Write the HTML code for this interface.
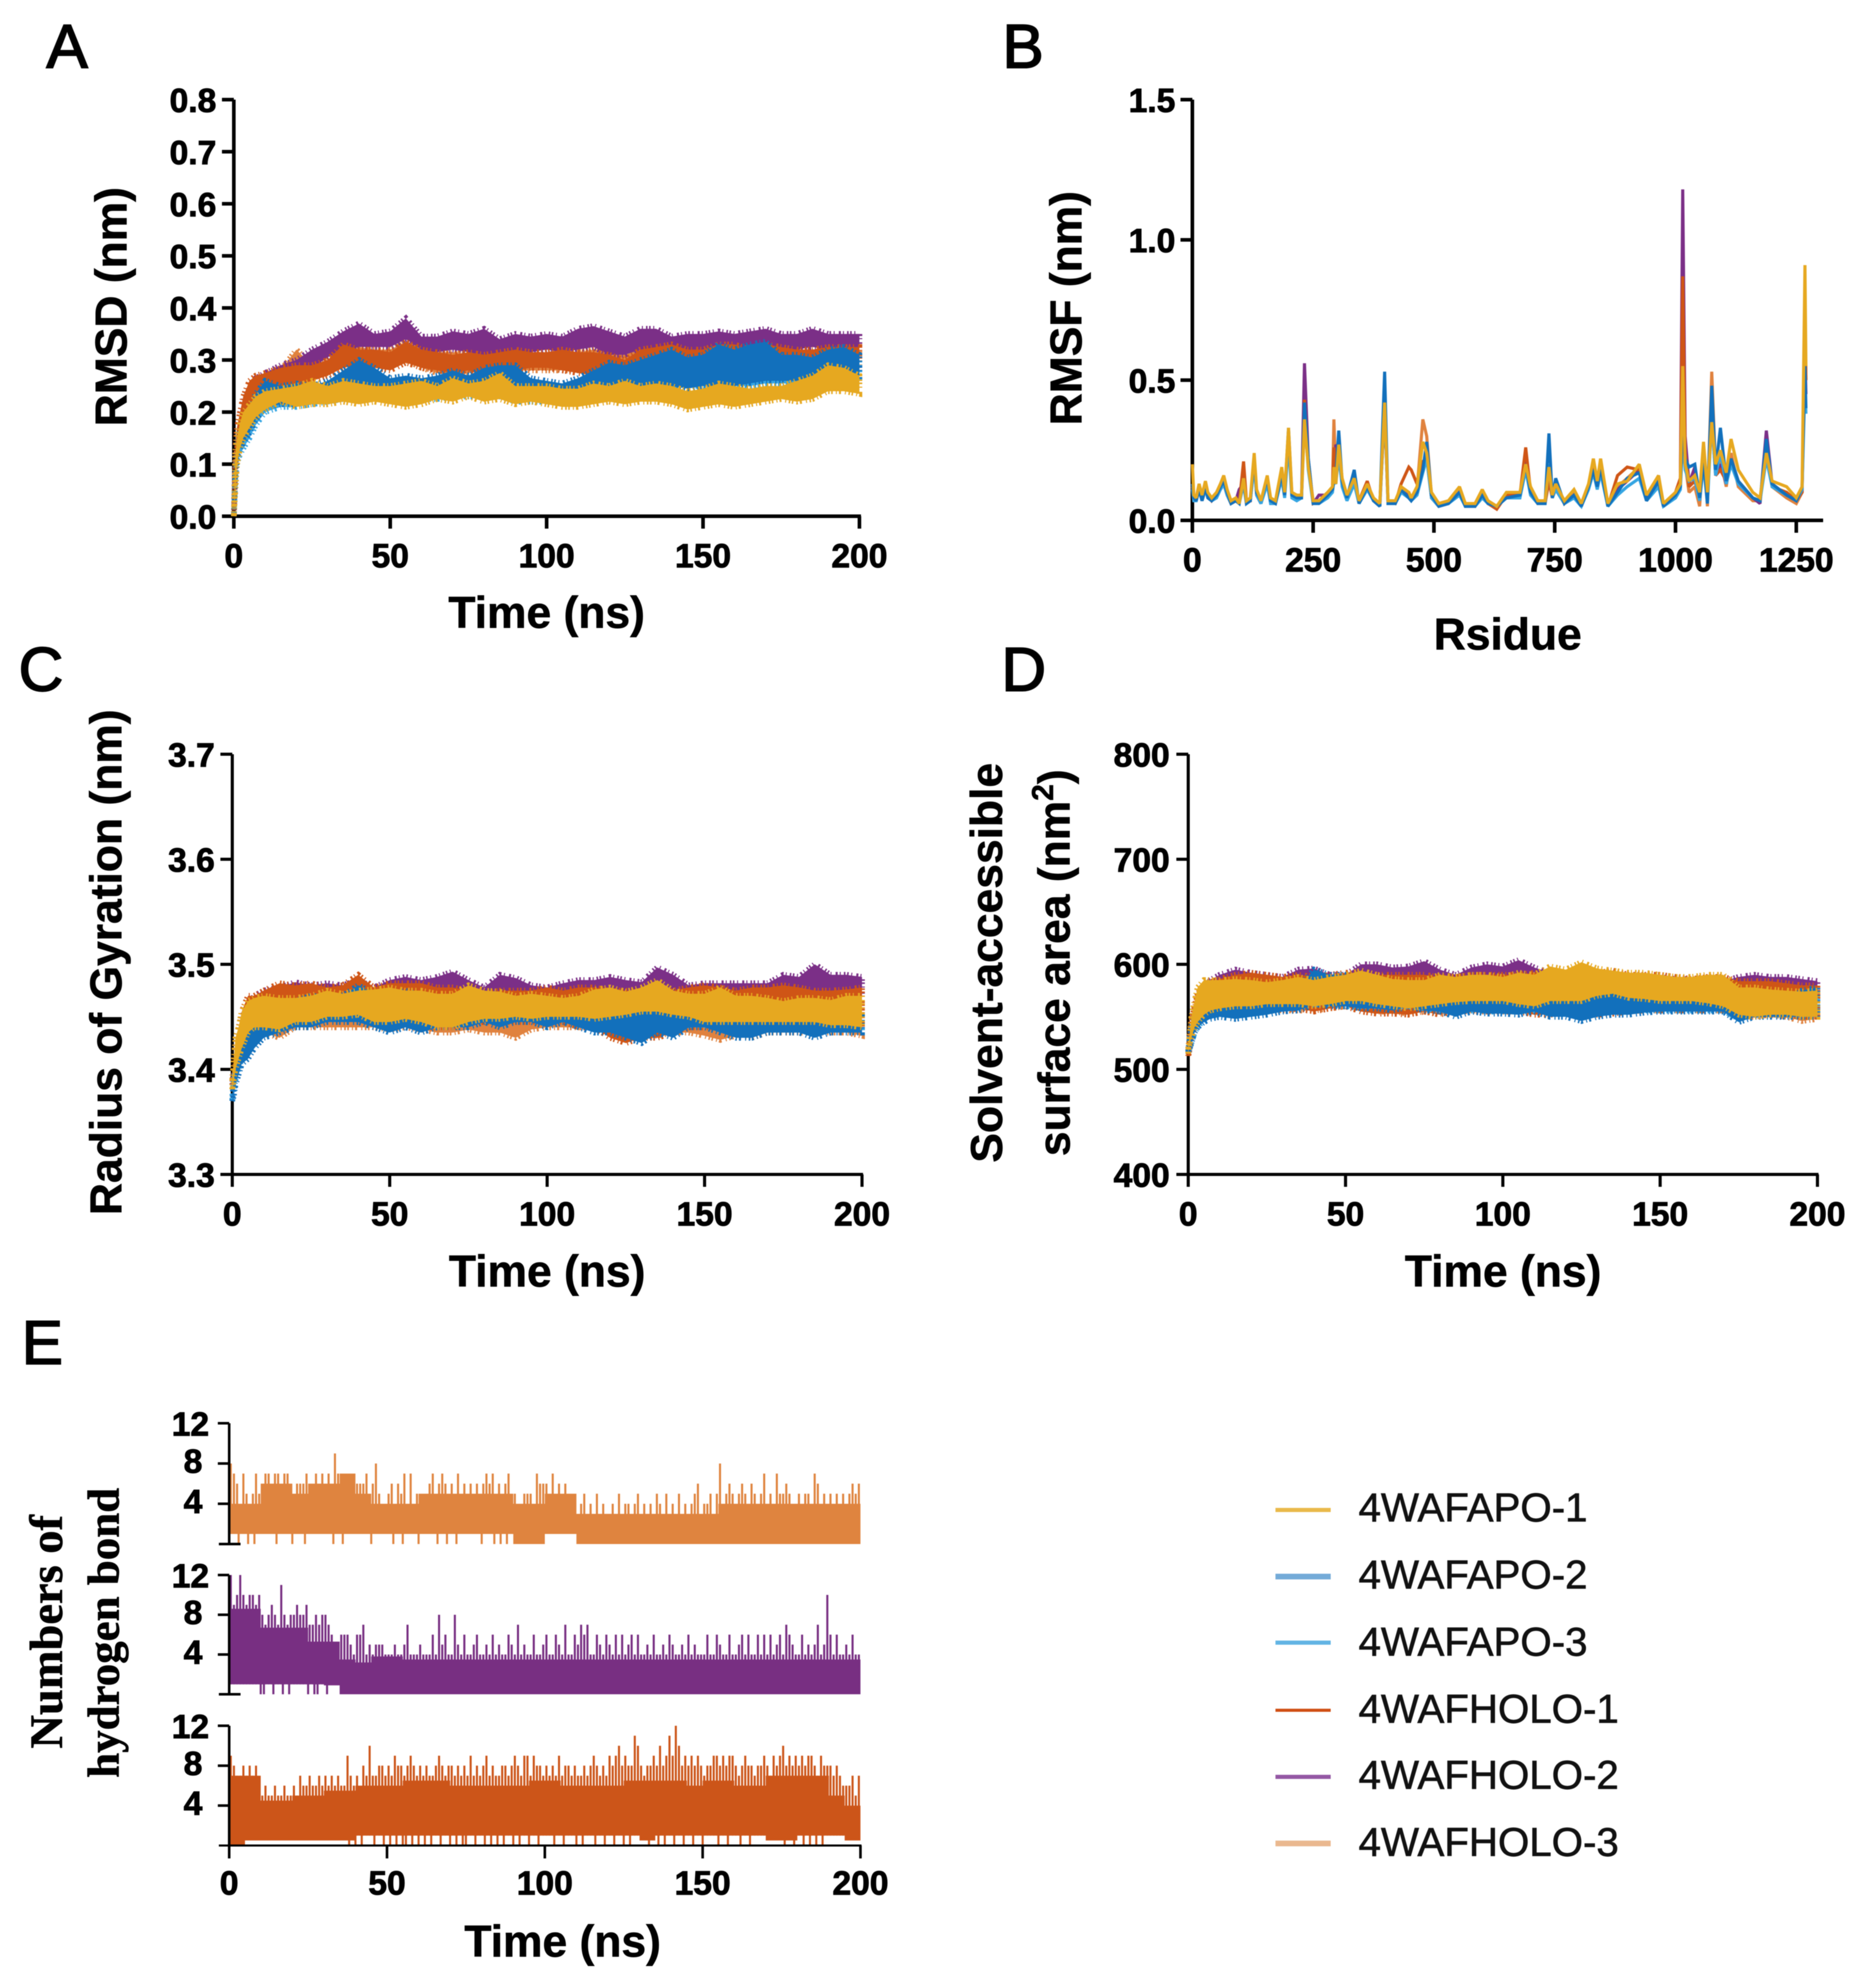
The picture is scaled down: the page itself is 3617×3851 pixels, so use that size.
<!DOCTYPE html>
<html lang="en">
<head>
<meta charset="utf-8">
<title>MD simulation analysis of 4WAF</title>
<style>
html,body{margin:0;padding:0;background:#fff;}
svg{display:block;font-family:"Liberation Sans",Arial,sans-serif;filter:blur(0.8px);}
.tick{font-weight:700;font-size:65px;fill:#000;stroke:#000;stroke-width:1.6px;}
.title{font-weight:700;font-size:86px;fill:#000;stroke:#000;stroke-width:1px;}
.serif{font-family:"Liberation Serif",serif;font-weight:700;fill:#000;stroke:#000;stroke-width:1px;}
.panel{font-size:120px;fill:#000;stroke:#000;stroke-width:3px;}
.leg{font-size:78px;fill:#111;stroke:#111;stroke-width:1.2px;}
</style>
</head>
<body>
<svg id="figure" xmlns="http://www.w3.org/2000/svg" width="3617" height="3851" viewBox="0 0 3617 3851">
<rect x="0" y="0" width="3617" height="3851" fill="#fff"/>
<text class="panel" x="90" y="131">A</text>
<text class="panel" x="1942" y="131">B</text>
<text class="panel" x="36" y="1338">C</text>
<text class="panel" x="1940" y="1338">D</text>
<text class="panel" x="42" y="2642">E</text>

<g id="chartA"></g>
<g id="chartB"></g>
<g id="chartC"></g>
<g id="chartD"></g>
<g id="chartE"></g>

<text class="title" x="1059" y="1216" text-anchor="middle">Time (ns)</text>
<text class="title" transform="translate(245,594) rotate(-90)" text-anchor="middle">RMSD (nm)</text>
<text class="title" x="2921" y="1258" text-anchor="middle">Rsidue</text>
<text class="title" transform="translate(2095,597) rotate(-90)" text-anchor="middle">RMSF (nm)</text>
<text class="title" x="1060" y="2492" text-anchor="middle">Time (ns)</text>
<text class="title" transform="translate(235,1864) rotate(-90)" text-anchor="middle">Radius of Gyration (nm)</text>
<text class="title" x="2912" y="2492" text-anchor="middle">Time (ns)</text>
<text class="title" transform="translate(1941,1865) rotate(-90)" text-anchor="middle">Solvent-accessible</text>
<text class="title" transform="translate(2072,1865) rotate(-90)" text-anchor="middle">surface area (nm<tspan font-size="58" dy="-32">2</tspan><tspan dy="32">)</tspan></text>
<text class="title" x="1090" y="3790" text-anchor="middle">Time (ns)</text>
<text class="serif" font-size="90" transform="translate(120,3161) rotate(-90)" text-anchor="middle">Numbers of</text>
<text class="serif" font-size="87" transform="translate(230,3163) rotate(-90)" text-anchor="middle">hydrogen bond</text>

<g>
<line x1="2471" y1="2925" x2="2578" y2="2925" stroke="#e9b94a" stroke-width="8"/>
<text class="leg" x="2632" y="2947">4WAFAPO-1</text>
<line x1="2471" y1="3054" x2="2578" y2="3054" stroke="#74abd8" stroke-width="11"/>
<text class="leg" x="2632" y="3077">4WAFAPO-2</text>
<line x1="2471" y1="3182" x2="2578" y2="3182" stroke="#62b4e4" stroke-width="8"/>
<text class="leg" x="2632" y="3207">4WAFAPO-3</text>
<line x1="2471" y1="3313" x2="2578" y2="3313" stroke="#d04f14" stroke-width="6"/>
<text class="leg" x="2632" y="3337">4WAFHOLO-1</text>
<line x1="2471" y1="3442" x2="2578" y2="3442" stroke="#9458a4" stroke-width="8"/>
<text class="leg" x="2632" y="3465">4WAFHOLO-2</text>
<line x1="2471" y1="3571" x2="2578" y2="3571" stroke="#eab88f" stroke-width="11"/>
<text class="leg" x="2632" y="3595">4WAFHOLO-3</text>
</g>
</svg>

<script>
/* ---------- shared ---------- */
const seriesNames = ['4wafholo-3','4wafholo-2','4wafholo-1','4wafapo-3','4wafapo-2','4wafapo-1'];
const seriesColors = ['#e0823e','#7b2f87','#cf5516','#35a5e2','#1270bc','#e6a820'];

/* Time samples (ns) for the trajectory bands */
const timeGrid = [
0,.5,1,2,3,5,7,10,
15,20,25,30,35,40,45,50,55,60,
65,70,75,80,85,90,95,100,105,110,
115,120,125,130,135,140,145,150,155,160,
165,170,175,180,185,190,195,200];
const timeTicks = [0,50,100,150,200];

/* ---------- A: RMSD (nm), upper / lower edge of each trace ---------- */
const rmsdTicks = ['0.0','0.1','0.2','0.3','0.4','0.5','0.6','0.7','0.8'];
const rmsdApo1Upper = [
0,.12,.15,.18,.2,.215,.23,.24,
.245,.25,.26,.25,.26,.255,.25,.25,.255,.26,
.25,.265,.255,.26,.275,.25,.25,.25,.245,.245,
.255,.25,.26,.25,.255,.25,.24,.245,.255,.25,
.245,.25,.25,.26,.27,.29,.285,.27];
const rmsdApo1Lower = [
0,.05,.1,.13,.15,.17,.19,.205,
.22,.21,.215,.215,.22,.215,.22,.215,.21,.215,
.225,.22,.23,.22,.225,.215,.22,.215,.21,.21,
.215,.22,.215,.22,.22,.215,.205,.21,.215,.21,
.215,.22,.225,.22,.225,.24,.24,.235];
const rmsdApo2Upper = [
0,.1,.14,.17,.18,.2,.235,.26,
.25,.255,.25,.26,.28,.30,.285,.265,.27,.265,
.27,.28,.27,.285,.29,.29,.265,.26,.255,.265,
.28,.295,.29,.30,.31,.32,.305,.31,.33,.32,
.33,.335,.31,.31,.305,.32,.325,.31];
const rmsdApo2Lower = [
0,.08,.11,.13,.14,.16,.185,.21,
.215,.215,.22,.225,.235,.24,.24,.225,.235,.23,
.23,.235,.24,.24,.235,.225,.23,.225,.225,.23,
.235,.24,.24,.24,.245,.25,.245,.25,.25,.25,
.255,.26,.26,.26,.26,.26,.26,.26];
const rmsdApo3Upper = [
0,.09,.13,.16,.17,.19,.22,.245,
.24,.245,.245,.25,.26,.27,.265,.25,.255,.25,
.255,.26,.26,.265,.27,.265,.255,.25,.245,.255,
.265,.27,.27,.275,.28,.29,.295,.29,.30,.295,
.30,.30,.295,.29,.295,.30,.305,.30];
const rmsdApo3Lower = [
0,.07,.1,.12,.13,.15,.175,.2,
.21,.21,.215,.22,.225,.23,.23,.22,.225,.225,
.225,.23,.23,.23,.23,.22,.22,.22,.22,.225,
.23,.235,.235,.235,.24,.245,.25,.25,.25,.25,
.25,.255,.255,.255,.255,.26,.26,.26];
const rmsdHolo1Upper = [
0,.13,.17,.2,.23,.26,.27,.275,
.285,.29,.29,.30,.33,.32,.32,.315,.335,.32,
.315,.31,.315,.31,.315,.32,.315,.315,.32,.315,
.315,.31,.30,.32,.325,.33,.32,.32,.33,.33,
.32,.33,.325,.32,.32,.325,.325,.325];
const rmsdHolo1Lower = [
0,.1,.13,.16,.185,.21,.225,.235,
.245,.25,.26,.27,.285,.29,.285,.28,.295,.285,
.28,.275,.28,.27,.275,.28,.285,.285,.28,.275,
.27,.27,.26,.27,.28,.29,.285,.28,.285,.28,
.29,.29,.29,.29,.29,.295,.29,.29];
const rmsdHolo2Upper = [
0,.13,.17,.2,.22,.25,.265,.275,
.29,.30,.32,.335,.355,.37,.35,.355,.38,.345,
.345,.355,.35,.36,.34,.35,.345,.35,.345,.36,
.365,.355,.345,.36,.36,.345,.35,.35,.355,.35,
.355,.36,.35,.35,.36,.35,.35,.35];
const rmsdHolo2Lower = [
0,.1,.13,.16,.19,.22,.235,.24,
.26,.27,.285,.305,.32,.325,.325,.325,.34,.32,
.315,.32,.315,.31,.31,.315,.315,.32,.315,.32,
.325,.31,.31,.32,.32,.315,.315,.32,.32,.32,
.32,.325,.32,.32,.325,.32,.32,.325];
const rmsdHolo3Upper = [
0,.12,.16,.2,.22,.25,.265,.27,
.28,.32,.29,.30,.325,.325,.32,.32,.335,.33,
.315,.315,.31,.32,.315,.31,.31,.31,.31,.315,
.32,.32,.31,.32,.33,.315,.31,.31,.32,.32,
.31,.32,.315,.315,.315,.32,.32,.32];
const rmsdHolo3Lower = [
0,.09,.13,.16,.18,.21,.22,.235,
.24,.26,.265,.275,.295,.295,.29,.29,.30,.285,
.275,.27,.275,.28,.28,.28,.28,.28,.28,.28,
.28,.28,.27,.28,.29,.28,.28,.28,.28,.28,
.28,.28,.28,.28,.285,.285,.285,.29];

/* ---------- B: RMSF (nm) per residue ---------- */
const rmsfTicks = ['0.0','0.5','1.0','1.5'];
const residueTicks = [0,250,500,750,1000,1250];
const residues = [
0,3,8,14,20,27,32,40,50,58,
65,72,80,90,97,106,112,120,128,133,
142,155,162,172,185,191,199,206,216,226,
232,240,250,262,280,290,293,297,303,310,
320,335,345,362,375,388,398,405,420,432,
448,453,465,477,485,495,510,530,553,565,
585,600,612,630,650,678,690,700,715,730,
738,745,752,770,790,805,820,830,838,845,
860,880,900,925,940,965,975,1000,1010,1015,
1020,1028,1040,1050,1058,1066,1075,1083,1093,1105,
1115,1130,1160,1175,1188,1200,1230,1250,1262,1268,
1270];
const rmsfApo1 = [
.20,.09,.08,.13,.09,.14,.10,.08,.10,.13,
.16,.11,.07,.08,.06,.15,.07,.08,.24,.11,
.07,.16,.08,.07,.19,.10,.33,.10,.09,.09,
.36,.19,.07,.07,.10,.12,.19,.13,.27,.15,
.09,.15,.07,.13,.08,.06,.42,.07,.07,.12,
.10,.08,.12,.28,.24,.10,.06,.07,.12,.06,
.06,.11,.07,.05,.10,.10,.20,.12,.07,.07,
.19,.09,.13,.07,.11,.06,.13,.22,.14,.22,
.06,.13,.14,.20,.09,.16,.06,.10,.13,.55,
.20,.14,.16,.10,.28,.10,.35,.20,.25,.17,
.29,.18,.10,.08,.24,.14,.12,.08,.12,.91,
.55];
const rmsfApo2 = [
.13,.08,.07,.11,.07,.12,.08,.07,.09,.12,
.14,.10,.06,.07,.06,.15,.06,.07,.23,.10,
.07,.15,.07,.06,.17,.09,.33,.09,.08,.08,
.42,.22,.06,.06,.09,.11,.14,.16,.32,.14,
.08,.18,.06,.12,.07,.05,.53,.06,.06,.11,
.08,.07,.10,.18,.28,.09,.05,.06,.10,.05,
.05,.09,.06,.05,.08,.09,.20,.10,.06,.06,
.31,.08,.15,.06,.09,.05,.12,.18,.12,.19,
.05,.10,.15,.17,.07,.14,.05,.09,.12,.34,
.22,.19,.20,.08,.22,.06,.48,.18,.33,.14,
.22,.14,.08,.07,.29,.13,.09,.07,.12,.55,
.40];
const rmsfApo3 = [
.11,.07,.07,.11,.07,.11,.08,.07,.08,.11,
.13,.09,.06,.07,.06,.13,.06,.07,.20,.09,
.06,.13,.06,.06,.15,.08,.28,.08,.07,.08,
.38,.18,.06,.06,.08,.10,.14,.13,.24,.12,
.07,.13,.06,.11,.07,.05,.41,.06,.06,.10,
.08,.07,.09,.17,.22,.08,.05,.06,.09,.05,
.05,.08,.06,.05,.08,.08,.18,.09,.06,.06,
.20,.08,.11,.06,.08,.05,.11,.17,.11,.17,
.05,.09,.12,.15,.07,.12,.05,.08,.11,.30,
.18,.14,.15,.07,.20,.06,.36,.16,.24,.13,
.20,.13,.08,.07,.22,.12,.09,.07,.11,.50,
.38];
const rmsfHolo1 = [
.12,.07,.08,.13,.07,.11,.09,.07,.09,.11,
.13,.09,.06,.07,.06,.21,.07,.07,.22,.09,
.06,.14,.07,.06,.16,.09,.30,.09,.08,.08,
.43,.20,.06,.07,.09,.11,.26,.14,.24,.13,
.08,.13,.07,.14,.07,.06,.40,.06,.06,.13,
.19,.18,.13,.21,.22,.08,.05,.06,.10,.05,
.05,.09,.06,.04,.09,.09,.26,.10,.06,.06,
.14,.08,.11,.06,.09,.05,.12,.22,.13,.22,
.05,.16,.19,.18,.07,.13,.05,.10,.15,.87,
.24,.12,.14,.08,.26,.08,.40,.16,.18,.14,
.22,.14,.08,.07,.26,.12,.10,.07,.10,.78,
.50];
const rmsfHolo2 = [
.13,.07,.07,.12,.07,.11,.09,.07,.09,.11,
.13,.09,.06,.07,.11,.13,.06,.07,.21,.09,
.06,.14,.06,.06,.16,.09,.30,.09,.08,.08,
.56,.22,.06,.09,.09,.12,.18,.27,.25,.13,
.08,.14,.06,.13,.07,.05,.40,.06,.06,.12,
.09,.07,.11,.18,.24,.08,.05,.06,.10,.05,
.05,.09,.06,.05,.09,.09,.22,.11,.06,.06,
.16,.10,.12,.06,.09,.05,.12,.20,.13,.20,
.05,.11,.14,.18,.07,.16,.05,.09,.14,1.18,
.30,.13,.19,.08,.22,.08,.36,.16,.20,.13,
.22,.13,.08,.06,.32,.13,.09,.07,.10,.60,
.45];
const rmsfHolo3 = [
.12,.08,.08,.12,.08,.12,.09,.08,.09,.12,
.14,.09,.06,.07,.06,.14,.07,.07,.23,.10,
.06,.15,.07,.07,.17,.09,.31,.09,.08,.08,
.35,.20,.07,.07,.09,.11,.36,.15,.22,.13,
.08,.14,.07,.12,.07,.06,.41,.07,.06,.11,
.10,.08,.11,.36,.30,.09,.06,.07,.11,.06,
.05,.10,.07,.05,.09,.09,.25,.11,.06,.06,
.15,.09,.12,.06,.10,.06,.12,.21,.13,.21,
.06,.12,.15,.19,.07,.14,.06,.09,.12,.60,
.20,.10,.12,.05,.27,.05,.53,.18,.22,.12,
.24,.12,.07,.07,.25,.12,.08,.06,.10,.70,
.50];

/* ---------- C: radius of gyration (nm) ---------- */
const rgTicks = ['3.3','3.4','3.5','3.6','3.7'];
const rgApo1Upper = [
3.39,3.41,3.43,3.44,3.455,3.465,3.468,3.47,
3.468,3.468,3.47,3.475,3.472,3.475,3.476,3.478,3.475,3.475,
3.472,3.472,3.48,3.475,3.474,3.47,3.472,3.47,3.468,3.47,
3.476,3.478,3.474,3.478,3.485,3.475,3.472,3.472,3.478,3.47,
3.47,3.468,3.465,3.468,3.468,3.466,3.47,3.47];
const rgApo1Lower = [
3.38,3.39,3.40,3.41,3.42,3.435,3.44,3.44,
3.438,3.445,3.445,3.45,3.45,3.452,3.445,3.445,3.448,3.445,
3.44,3.44,3.445,3.448,3.448,3.45,3.448,3.45,3.45,3.45,
3.448,3.45,3.452,3.455,3.455,3.452,3.45,3.445,3.445,3.445,
3.445,3.445,3.445,3.445,3.445,3.442,3.442,3.44];
const rgApo2Upper = [
3.37,3.39,3.40,3.41,3.42,3.44,3.45,3.46,
3.462,3.465,3.47,3.468,3.47,3.48,3.472,3.47,3.475,3.47,
3.468,3.465,3.465,3.46,3.46,3.462,3.46,3.46,3.458,3.455,
3.455,3.46,3.46,3.462,3.465,3.46,3.462,3.465,3.458,3.455,
3.452,3.45,3.452,3.452,3.45,3.45,3.452,3.45];
const rgApo2Lower = [
3.37,3.375,3.385,3.395,3.405,3.41,3.42,3.43,
3.435,3.44,3.44,3.445,3.445,3.445,3.44,3.435,3.44,3.435,
3.44,3.44,3.44,3.445,3.44,3.445,3.445,3.44,3.445,3.44,
3.435,3.435,3.43,3.425,3.435,3.43,3.44,3.44,3.435,3.43,
3.43,3.435,3.435,3.435,3.43,3.435,3.435,3.435];
const rgApo3Upper = [
3.375,3.39,3.40,3.415,3.425,3.44,3.45,3.455,
3.458,3.46,3.462,3.462,3.465,3.468,3.465,3.465,3.465,3.465,
3.465,3.462,3.462,3.46,3.46,3.46,3.458,3.458,3.455,3.455,
3.455,3.458,3.458,3.46,3.46,3.458,3.46,3.46,3.458,3.455,
3.452,3.452,3.452,3.452,3.452,3.452,3.452,3.45];
const rgApo3Lower = [
3.37,3.38,3.39,3.40,3.41,3.42,3.43,3.435,
3.44,3.445,3.445,3.448,3.448,3.448,3.445,3.44,3.445,3.44,
3.445,3.445,3.445,3.448,3.445,3.448,3.448,3.445,3.448,3.445,
3.44,3.44,3.435,3.435,3.44,3.438,3.442,3.442,3.44,3.438,
3.438,3.44,3.44,3.44,3.438,3.44,3.44,3.44];
const rgHolo1Upper = [
3.39,3.41,3.425,3.44,3.455,3.47,3.47,3.475,
3.482,3.48,3.482,3.478,3.48,3.49,3.478,3.482,3.482,3.482,
3.478,3.478,3.475,3.472,3.475,3.475,3.475,3.478,3.475,3.478,
3.478,3.475,3.475,3.475,3.47,3.475,3.478,3.48,3.478,3.475,
3.478,3.478,3.48,3.478,3.475,3.475,3.476,3.478];
const rgHolo1Lower = [
3.39,3.395,3.405,3.42,3.43,3.44,3.445,3.45,
3.445,3.45,3.45,3.45,3.45,3.448,3.445,3.44,3.445,3.44,
3.44,3.44,3.445,3.445,3.445,3.445,3.445,3.448,3.445,3.44,
3.44,3.43,3.425,3.43,3.43,3.435,3.44,3.44,3.44,3.44,
3.44,3.44,3.44,3.44,3.44,3.44,3.44,3.44];
const rgHolo2Upper = [
3.39,3.41,3.425,3.44,3.45,3.46,3.47,3.475,
3.478,3.483,3.48,3.482,3.48,3.485,3.478,3.485,3.488,3.485,
3.488,3.493,3.485,3.478,3.49,3.487,3.48,3.478,3.482,3.485,
3.485,3.488,3.485,3.483,3.497,3.49,3.48,3.482,3.482,3.482,
3.482,3.482,3.49,3.488,3.50,3.49,3.49,3.488];
const rgHolo2Lower = [
3.385,3.39,3.40,3.415,3.43,3.44,3.45,3.455,
3.46,3.462,3.462,3.465,3.462,3.465,3.46,3.465,3.465,3.465,
3.465,3.468,3.465,3.46,3.465,3.462,3.46,3.46,3.46,3.462,
3.462,3.462,3.46,3.462,3.468,3.465,3.46,3.46,3.462,3.462,
3.465,3.468,3.47,3.47,3.47,3.47,3.47,3.468];
const rgHolo3Upper = [
3.39,3.405,3.42,3.435,3.45,3.46,3.465,3.47,
3.47,3.472,3.472,3.475,3.472,3.475,3.472,3.475,3.475,3.472,
3.47,3.47,3.47,3.47,3.47,3.468,3.47,3.47,3.47,3.47,
3.47,3.47,3.47,3.47,3.472,3.47,3.47,3.47,3.47,3.468,
3.468,3.468,3.468,3.468,3.468,3.468,3.468,3.468];
const rgHolo3Lower = [
3.385,3.39,3.40,3.41,3.42,3.43,3.435,3.435,
3.43,3.44,3.44,3.44,3.44,3.44,3.44,3.438,3.44,3.438,
3.435,3.435,3.438,3.435,3.435,3.43,3.438,3.44,3.44,3.44,
3.44,3.435,3.43,3.432,3.432,3.435,3.435,3.432,3.428,3.432,
3.43,3.435,3.435,3.435,3.435,3.435,3.435,3.432];

/* ---------- D: SASA (nm^2) ---------- */
const sasaTicks = ['400','500','600','700','800'];
const sasaApo1Upper = [
520,535,550,565,578,585,585,585,
586,585,583,585,588,585,588,590,594,590,
586,585,585,590,588,590,590,588,592,590,
598,595,602,596,594,592,592,590,588,588,
590,590,578,578,576,575,574,575];
const sasaApo1Lower = [
515,525,530,540,545,552,556,558,
560,560,562,562,562,560,562,565,565,562,
560,558,560,562,564,565,565,565,562,560,
565,565,565,570,572,568,567,565,565,565,
563,560,552,550,552,552,550,550];
const sasaApo2Upper = [
518,530,540,550,558,565,575,580,
578,575,575,575,578,595,590,590,585,578,
576,575,574,572,570,575,572,570,568,568,
582,575,590,572,572,570,572,572,570,570,
566,565,560,565,563,562,575,578];
const sasaApo2Lower = [
515,520,525,535,540,545,548,550,
548,550,552,555,556,562,560,560,558,558,
556,560,556,555,550,555,553,553,552,555,
550,550,546,550,552,552,554,555,555,555,
555,555,545,550,550,550,550,550];
const sasaApo3Upper = [
518,528,538,548,555,562,570,575,
575,572,572,572,575,585,585,582,578,575,
575,572,570,570,568,572,570,568,566,566,
575,578,590,572,570,568,570,570,568,568,
565,562,558,562,562,560,565,570];
const sasaApo3Lower = [
515,520,525,535,540,548,550,552,
552,555,556,558,558,562,562,560,560,560,
560,560,558,556,555,556,555,555,555,556,
555,555,555,556,555,556,556,556,556,556,
556,556,548,552,552,552,552,552];
const sasaHolo1Upper = [
515,530,545,560,572,580,583,586,
590,592,590,588,590,588,590,592,592,590,
590,590,590,588,588,590,590,590,590,592,
590,592,592,592,594,590,590,590,588,586,
588,588,584,584,584,582,580,580];
const sasaHolo1Lower = [
512,520,530,540,545,552,555,555,
557,558,558,556,558,555,558,560,555,553,
553,552,555,552,556,555,555,555,555,552,
552,554,552,552,553,555,556,556,556,556,
556,556,554,552,552,552,550,550];
const sasaHolo2Upper = [
520,530,545,555,565,575,585,590,
595,592,590,588,595,596,590,590,600,600,
597,598,603,595,590,597,600,598,604,597,
592,590,590,592,590,588,588,588,586,586,
584,584,588,590,588,588,586,584];
const sasaHolo2Lower = [
515,525,535,545,552,560,565,570,
572,570,572,570,575,574,575,575,578,578,
578,575,578,575,575,578,578,576,578,575,
572,570,570,570,570,570,570,570,570,570,
570,570,570,570,570,570,570,570];
const sasaHolo3Upper = [
518,532,545,558,570,578,580,582,
582,582,580,582,584,582,584,585,585,582,
580,580,580,580,582,582,582,580,580,582,
584,584,584,584,584,582,580,580,580,580,
580,578,575,575,575,572,572,572];
const sasaHolo3Lower = [
515,522,530,540,548,553,555,556,
558,558,558,556,556,556,558,560,558,555,
555,553,555,553,555,556,556,556,556,556,
556,556,553,553,555,556,556,556,556,556,
556,556,550,550,552,550,546,548];

/* ---------- E: hydrogen bonds ---------- */
const hbondTicks = [4,8,12];
/* solid band edges per 5 ns segment */
const hbondHolo3Top = [
4,4,6,6,5,6,6,7,5,4,
4,4,5,5,5,5,5,5,4,4,
5,5,3,3,3,3,3,3,3,3,
3,4,4,4,4,4,4,4,4,4];
const hbondHolo3Floor = [
1,1,1,1,1,1,1,1,1,1,
1,1,1,1,1,1,1,1,0,0,
1,1,0,0,0,0,0,0,0,0,
0,0,0,0,0,0,0,0,0,0];
const hbondHolo2Top = [
8.6,8.6,6.7,6.7,6.7,5.3,5.3,3.5,3.2,3.8,
3.8,3.5,3.5,3.5,3.5,3.5,3.5,3.5,3.5,3.5,
3.5,3.5,3.5,3.5,3.5,3.5,3.5,3.5,3.5,3.5,
3.5,3.5,3.5,3.5,3.5,3.5,3.5,3.5,3.5,3.5];
const hbondHolo2Floor = [
1,1,1,1,1,1,0.9,0,0,0,
0,0,0,0,0,0,0,0,0,0,
0,0,0,0,0,0,0,0,0,0,
0,0,0,0,0,0,0,0,0,0];
const hbondHolo1Top = [
7,7,4.5,4.5,5,5,5.5,5.5,6,6,
6,6.5,6.5,6.5,6,6,6,6,6,6.5,
6.5,6,6,6,6,6.5,6.5,6.5,6.5,6,
6.5,6.5,6,6,7,7,7,7,5,4];
const hbondHolo1Floor = [
0,0.5,0.5,0.5,0.5,0.5,0.5,0.5,1,1,
1,1,1,1,1,1,1,1,1,1,
1,1,1,1,1,1,0.5,1,1,1,
1,1,1,1,0.5,0.5,1,1,1,0.5];
/* tallest count reached in each 1 ns bin */
const hbondHolo3Peak = [
8,7,6,4,7,5,4,5,7,5,
6,7,7,6,7,7,6,7,7,6,
5,6,6,6,7,6,6,7,6,7,
6,7,6,9,7,7,7,7,6,7,
6,6,6,7,5,6,8,5,4,4,
5,6,4,6,5,7,4,7,4,5,
5,4,5,6,7,4,6,7,6,5,
6,4,7,5,6,4,6,5,6,5,
6,7,6,7,5,6,4,6,7,5,
5,4,4,5,5,5,4,7,6,6,
6,5,7,4,6,5,6,5,4,3,
3,4,5,3,4,3,5,3,4,3,
3,4,3,5,3,4,4,3,4,5,
3,4,3,4,3,5,4,3,5,3,
4,3,5,3,4,3,4,5,6,3,
4,4,5,3,5,8,4,5,6,5,
4,5,6,5,4,6,5,4,5,7,
4,5,4,7,5,5,6,5,4,4,
5,4,5,5,4,7,6,4,5,4,
5,4,5,4,5,4,5,6,5,6];
const hbondHolo2Peak = [
12,9,10,12,10,9,10,10,9,10,
8,7,8,9,8,7,11,8,7,8,
8,9,8,8,9,7,7,8,7,8,
8,7,6,5,5,6,6,6,5,4,
6,6,7,4,5,4,5,5,5,4,
4,4,5,4,4,5,7,4,4,4,
5,4,4,4,6,4,8,5,6,4,
4,8,5,4,6,4,4,5,6,4,
4,5,4,6,4,5,4,4,6,5,
4,7,4,5,4,4,6,4,4,5,
6,4,4,6,5,4,7,4,4,6,
5,7,6,7,4,4,6,5,4,6,
5,4,6,4,6,4,5,6,4,6,
4,4,5,4,6,4,4,5,4,6,
5,4,4,5,4,6,4,5,4,4,
4,6,4,4,6,5,4,4,6,4,
4,5,6,4,6,4,4,6,4,6,
4,6,4,5,6,4,7,6,5,4,
4,6,4,5,4,5,7,4,5,10,
6,4,6,4,4,5,4,6,4,4];
const hbondHolo1Peak = [
9,8,7,7,8,7,8,7,8,6,
5,6,5,5,6,5,5,6,5,5,
6,5,7,6,6,7,6,6,7,6,
7,6,7,6,7,6,6,9,7,6,
7,6,8,7,10,7,7,8,8,7,
8,7,9,8,8,7,8,9,8,7,
8,7,8,7,7,8,9,8,7,8,
8,7,8,7,8,7,9,7,8,7,
8,9,7,8,7,7,8,8,7,8,
9,8,7,9,9,7,9,8,8,7,
8,7,8,7,9,7,8,8,7,8,
7,7,8,7,8,9,8,7,8,7,
9,8,9,10,8,9,8,8,11,10,
8,7,8,8,9,8,10,8,9,11,
9,12,10,8,9,8,9,8,9,8,
7,8,8,9,9,8,9,8,9,9,
8,7,8,9,8,8,7,8,8,9,
8,7,9,8,9,10,8,9,8,9,
8,9,8,9,9,8,7,9,8,8,
8,7,8,7,6,6,6,7,5,7];
/* times (ns) where the count falls to zero below the band */
const hbondHolo3Drops = [3,6,8,15,20,24,33,36,45,52,55,60,66,69,72,80,84,86,88];
const hbondHolo2Drops = [10,11,14,17,19,25,27,28,31];
const hbondHolo1Drops = [
38,40,42,46,49,51,53,55,56,58,60,62,64,67,70,72,74,75,78,81,
83,85,87,90,92,95,98,103,106,110,112,116,119,122,125,127,
133,136,138,141,144,147,150,155,158,162,165,176,179,182,184,186,188];

/* ---------- drawing ---------- */
const NS = 'http://www.w3.org/2000/svg';
function make(parent, tag, attrs, text) {
  const el = document.createElementNS(NS, tag);
  for (const k in attrs) el.setAttribute(k, attrs[k]);
  if (text !== undefined) el.textContent = text;
  parent.appendChild(el);
  return el;
}
function linear(d0, d1, r0, r1) {
  return function (v) { return r0 + (v - d0) * (r1 - r0) / (d1 - d0); };
}
function drawAxes(g, c) {
  const axisAttrs = {stroke:'#000','stroke-width':c.w,fill:'none'};
  const yAxis = make(g, 'line', Object.assign({x1:c.x0,y1:c.yTop,x2:c.x0,y2:c.yBase+c.w/2,'stroke-linecap':'butt'}, axisAttrs));
  
  
  const xAxis = make(g, 'line', Object.assign({x1:c.x0-c.w/2,y1:c.yBase,x2:c.xEnd,y2:c.yBase}, axisAttrs));
  
  
  c.yLabels.forEach(function (lab) {
    const yy = c.y(parseFloat(lab));
    const t = make(g, 'line', Object.assign({x1:c.x0-23,y1:yy,x2:c.x0,y2:yy}, axisAttrs));
    
    
    const l = make(g, 'text', {'class':'tick',x:c.yLabelX,y:yy+24,'text-anchor':'end'}, lab);
    
    
  });
  c.xLabels.forEach(function (v) {
    const xx = c.x(v);
    const t = make(g, 'line', Object.assign({x1:xx,y1:c.yBase,x2:xx,y2:c.yBase+24}, axisAttrs));
    
    
    const l = make(g, 'text', {'class':'tick',x:xx,y:c.yBase+99,'text-anchor':'middle'}, String(v));
    
    
  });
}
function drawBands(g, c, bands) {
  bands.forEach(function (b, s) {
    const pts = [];
    b[0].forEach(function (v, i) { pts.push(c.x(timeGrid[i]).toFixed(1) + ',' + c.y(v).toFixed(1)); });
    for (let i = b[1].length - 1; i >= 0; i--) pts.push(c.x(timeGrid[i]).toFixed(1) + ',' + c.y(b[1][i]).toFixed(1));
    /* dashed wide outline gives the band the comb-like edge of a noisy trace */
    const p = make(g, 'polygon', {points:pts.join(' '),fill:seriesColors[s],stroke:seriesColors[s],'stroke-width':11,'stroke-dasharray':'3 5 2 8 4 4 2 6 3 3'});
    
    
  });
}

/* Panel A */
(function () {
  const g = document.getElementById('chartA');
  const c = {x0:453,xEnd:1668,yTop:193,yBase:1000,w:7,yLabelX:419,yLabels:rmsdTicks,xLabels:timeTicks,
    x:linear(0,200,453,1665),y:linear(0,0.8,1000,193)};
  drawAxes(g,c);
  drawBands(g,c,[[rmsdHolo3Upper,rmsdHolo3Lower],[rmsdHolo2Upper,rmsdHolo2Lower],[rmsdHolo1Upper,rmsdHolo1Lower],
    [rmsdApo3Upper,rmsdApo3Lower],[rmsdApo2Upper,rmsdApo2Lower],[rmsdApo1Upper,rmsdApo1Lower]]);
})();

/* Panel B */
(function () {
  const g = document.getElementById('chartB');
  const c = {x0:2310,xEnd:3532,yTop:193,yBase:1008,w:7,yLabelX:2277,yLabels:rmsfTicks,xLabels:residueTicks,
    x:linear(0,1250,2310,3480),y:linear(0,1.5,1008,193)};
  drawAxes(g,c);
  [rmsfHolo3,rmsfHolo2,rmsfHolo1,rmsfApo3,rmsfApo2,rmsfApo1].forEach(function (vals, s) {
    const pts = vals.map(function (v, i) { return c.x(residues[i]).toFixed(1) + ',' + c.y(v).toFixed(1); }).join(' ');
    const p = make(g, 'polyline', {points:pts,fill:'none',stroke:seriesColors[s],'stroke-width':6,'stroke-linejoin':'miter','stroke-miterlimit':2});
    
    
  });
})();

/* Panel C */
(function () {
  const g = document.getElementById('chartC');
  const c = {x0:450,xEnd:1672,yTop:1461,yBase:2275,w:6,yLabelX:416,yLabels:rgTicks,xLabels:timeTicks,
    x:linear(0,200,450,1670),y:linear(3.3,3.7,2275,1461)};
  drawAxes(g,c);
  drawBands(g,c,[[rgHolo3Upper,rgHolo3Lower],[rgHolo2Upper,rgHolo2Lower],[rgHolo1Upper,rgHolo1Lower],
    [rgApo3Upper,rgApo3Lower],[rgApo2Upper,rgApo2Lower],[rgApo1Upper,rgApo1Lower]]);
})();

/* Panel D */
(function () {
  const g = document.getElementById('chartD');
  const c = {x0:2302,xEnd:3523,yTop:1461,yBase:2275,w:6,yLabelX:2266,yLabels:sasaTicks,xLabels:timeTicks,
    x:linear(0,200,2302,3521),y:linear(400,800,2275,1461)};
  drawAxes(g,c);
  drawBands(g,c,[[sasaHolo3Upper,sasaHolo3Lower],[sasaHolo2Upper,sasaHolo2Lower],[sasaHolo1Upper,sasaHolo1Lower],
    [sasaApo3Upper,sasaApo3Lower],[sasaApo2Upper,sasaApo2Lower],[sasaApo1Upper,sasaApo1Lower]]);
})();

/* Panel E */
(function () {
  const g = document.getElementById('chartE');
  const x = linear(0,200,444,1667);
  const panels = [
    {name:'4wafholo-3',color:'#df843f',y12:2757,y0:2991,top:hbondHolo3Top,floor:hbondHolo3Floor,peak:hbondHolo3Peak,drops:hbondHolo3Drops},
    {name:'4wafholo-2',color:'#782f82',y12:3051,y0:3282,top:hbondHolo2Top,floor:hbondHolo2Floor,peak:hbondHolo2Peak,drops:hbondHolo2Drops},
    {name:'4wafholo-1',color:'#cc5519',y12:3343,y0:3575,top:hbondHolo1Top,floor:hbondHolo1Floor,peak:hbondHolo1Peak,drops:hbondHolo1Drops}
  ];
  panels.forEach(function (p, pi) {
    const y = linear(0,12,p.y0,p.y12);
    const sub = make(g, 'g', {});
    
    
    const band = [];
    p.top.forEach(function (v, i) {
      band.push(x(i*5).toFixed(1) + ',' + y(v).toFixed(1));
      band.push(x(i*5+5).toFixed(1) + ',' + y(v).toFixed(1));
    });
    for (let i = p.floor.length - 1; i >= 0; i--) {
      band.push(x(i*5+5).toFixed(1) + ',' + y(p.floor[i]).toFixed(1));
      band.push(x(i*5).toFixed(1) + ',' + y(p.floor[i]).toFixed(1));
    }
    const poly = make(sub, 'polygon', {points:band.join(' '),fill:p.color});
    
    
    let d = '';
    p.peak.forEach(function (v, i) {
      d += 'M' + x(i+0.5).toFixed(1) + ' ' + y(1).toFixed(1) + 'V' + y(v).toFixed(1);
    });
    p.drops.forEach(function (t) {
      d += 'M' + x(t).toFixed(1) + ' ' + y(0).toFixed(1) + 'V' + y(1.2).toFixed(1);
    });
    const spikes = make(sub, 'path', {d:d,stroke:p.color,'stroke-width':4,fill:'none'});
    
    

    const yAxis = make(sub, 'line', {x1:444,y1:p.y12,x2:444,y2:p.y0+2,stroke:'#000','stroke-width':5});
    
    
    const base = make(sub, 'line', pi === 2
      ? {x1:424,y1:p.y0,x2:1669,y2:p.y0,stroke:'#000','stroke-width':4}
      : {x1:424,y1:p.y0,x2:466,y2:p.y0,stroke:'#000','stroke-width':5});
    
    
    hbondTicks.forEach(function (v) {
      const t = make(sub, 'line', {x1:422,y1:y(v),x2:444,y2:y(v),stroke:'#000','stroke-width':5});
      
      
      const l = make(sub, 'text', {'class':'tick',x:v === 12 ? 405 : 392,y:y(v) + (v === 12 ? 24 : 18),'text-anchor':'end'}, String(v));
      
      
    });
  });
  timeTicks.forEach(function (v) {
    const t = make(g, 'line', {x1:x(v),y1:3575,x2:x(v),y2:3600,stroke:'#000','stroke-width':5});
    
    
    const l = make(g, 'text', {'class':'tick',x:x(v),y:3670,'text-anchor':'middle'}, String(v));
    
    
  });
})();
</script>
</body>
</html>
